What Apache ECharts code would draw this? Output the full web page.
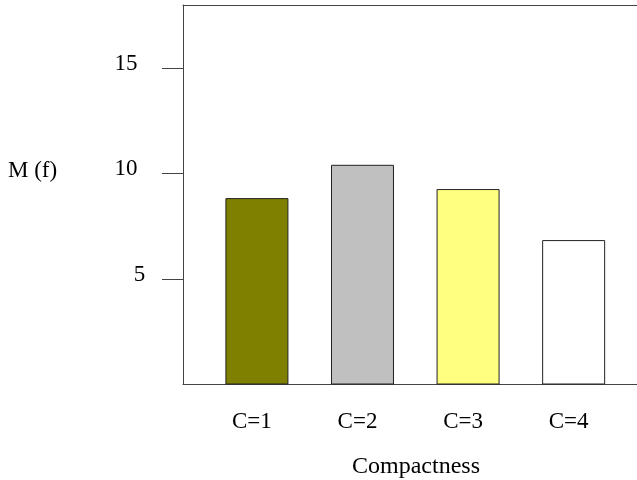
<!DOCTYPE html>
<html><head><meta charset="utf-8">
<script src="https://cdn.jsdelivr.net/npm/echarts@6/dist/echarts.min.js"></script>
<style>html,body{margin:0;padding:0;background:#fff}#c{width:637px;height:480px}</style>
</head><body><div id="c"></div>
<script>
const categories = ['C=1', 'C=2', 'C=3', 'C=4'];
const values = [8.84, 10.42, 9.27, 6.85];
const yTicks = [5, 10, 15];
const barColors = ['#808000', '#c0c0c0', '#ffff80', '#ffffff'];

const FONT = 'Liberation Serif';
const chart = echarts.init(document.getElementById('c'), null, {renderer: 'canvas'});
chart.setOption({
  animation: false,
  backgroundColor: '#fff',
  grid: {left: 183, right: 0, top: 5, bottom: 95.5, containLabel: false},
  xAxis: [{
    type: 'value', min: 0.3, max: 4.6, position: 'bottom',
    splitLine: {show: false},
    axisLine: {show: true, lineStyle: {color: '#444', width: 1}},
    axisTick: {show: false},
    axisLabel: {
      customValues: [1, 2, 3, 4],
      formatter: v => '{c|' + (categories[Math.round(v) - 1] || '') + '}',
      rich: {c: {fontFamily: FONT, fontSize: 23, color: '#000', padding: [0, 10, 0, 0]}},
      margin: 26
    }
  }, {
    type: 'value', min: 0.3, max: 4.6, position: 'top',
    splitLine: {show: false},
    axisLine: {show: true, lineStyle: {color: '#444', width: 1}},
    axisTick: {show: false}, axisLabel: {show: false}
  }],
  yAxis: {
    type: 'value', min: 0, max: 18,
    splitLine: {show: false},
    axisLine: {show: true, lineStyle: {color: '#444', width: 1}},
    axisTick: {show: true, length: 21, customValues: yTicks, lineStyle: {color: '#444'}},
    axisLabel: {
      customValues: yTicks,
      align: 'center', margin: 57,
      formatter: v => v === 5 ? '{s|' + v + '}' : '{n|' + v + '}',
      rich: {
        n: {fontFamily: FONT, fontSize: 23, color: '#000', padding: [0, 0, 9, 0]},
        s: {fontFamily: FONT, fontSize: 23, color: '#000', padding: [0, 0, 9, 27]}
      }
    }
  },
  graphic: [
    {type: 'text', left: 8, top: 159, style: {text: 'M (f)', font: '23px "Liberation Serif"', fill: '#000'}},
    {type: 'text', left: 352, top: 455, style: {text: 'Compactness', font: '24px "Liberation Serif"', fill: '#000'}}
  ],
  series: [{
    type: 'bar',
    barWidth: 63,
    data: values.map((v, i) => ({
      value: [i + 1, v],
      itemStyle: {color: barColors[i], borderColor: '#222', borderWidth: 1}
    }))
  }]
});
</script></body></html>
